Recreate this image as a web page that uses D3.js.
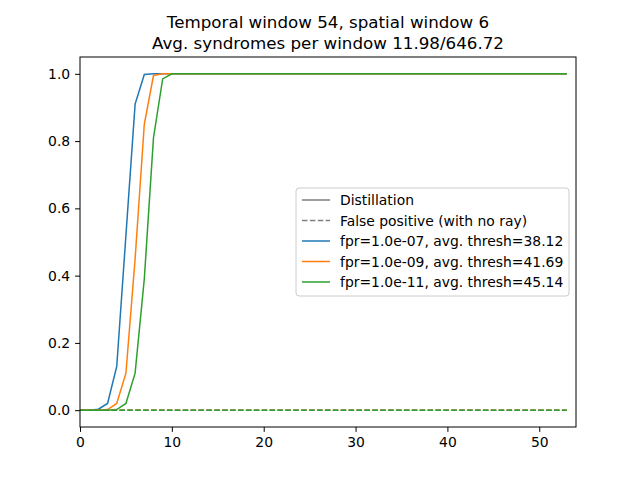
<!DOCTYPE html>
<html><head><meta charset="utf-8">
<script src="https://cdn.jsdelivr.net/npm/d3@7"></script>
<style>body{margin:0;background:#fff}text{font-family:"DejaVu Sans",sans-serif}</style>
</head><body><div id="chart"></div>
<script>
// x is window offset 0..53
var xs = d3.range(0, 54);
var blueHead = [0, 0, 0.003, 0.02, 0.13, 0.52, 0.91, 0.998];
var orangeHead = [0, 0, 0, 0.002, 0.02, 0.11, 0.45, 0.85, 0.995];
var greenHead = [0, 0, 0, 0, 0.002, 0.02, 0.11, 0.39, 0.81, 0.985];
var labels = ["fpr=1.0e-07, avg. thresh=38.12", "fpr=1.0e-09, avg. thresh=41.69", "fpr=1.0e-11, avg. thresh=45.14"];
var colors = ["#1f77b4", "#ff7f0e", "#2ca02c"];
var yTicks = [0, 0.2, 0.4, 0.6, 0.8, 1.0];
var xTicks = [0, 10, 20, 30, 40, 50];

function fill(head) { return xs.map(function(x) { return x < head.length ? head[x] : 1; }); }
var series = [fill(blueHead), fill(orangeHead), fill(greenHead)];
var falsePos = xs.map(function() { return 0; });

var svg = d3.select("#chart").append("svg").attr("width", 640).attr("height", 480);
var x = d3.scaleLinear().domain([0, 54]).range([80, 576]);
var y = d3.scaleLinear().domain([-0.05, 1.05]).range([427, 57]);

var line = d3.line().x(function(d, i) { return x(xs[i]); }).y(function(d) { return y(d); });

series.forEach(function(s, k) {
  svg.append("path").datum(s).attr("d", line).attr("fill", "none")
    .attr("stroke", colors[k]).attr("stroke-width", 1.5);
});
series.forEach(function(s, k) {
  svg.append("path").datum(falsePos).attr("d", line).attr("fill", "none")
    .attr("stroke", colors[k]).attr("stroke-width", 1.5).attr("stroke-dasharray", "5.5,2.4");
});

svg.append("g").attr("transform", "translate(0,427)")
  .call(d3.axisBottom(x).tickValues(xTicks).tickSize(4.9).tickPadding(4.9))
  .call(function(g) { g.select(".domain").remove(); g.selectAll("text").attr("font-size", 13.9).attr("fill", "#000"); });
svg.append("g").attr("transform", "translate(80,0)")
  .call(d3.axisLeft(y).tickValues(yTicks).tickFormat(d3.format(".1f")).tickSize(4.9).tickPadding(4.9))
  .call(function(g) { g.select(".domain").remove(); g.selectAll("text").attr("font-size", 13.9).attr("fill", "#000"); });
svg.append("rect").attr("x", 80).attr("y", 57).attr("width", 496).attr("height", 370)
  .attr("fill", "none").attr("stroke", "#000").attr("stroke-width", 1);

svg.append("text").attr("x", 328).attr("y", 28).attr("text-anchor", "middle").attr("font-size", 16.7)
  .text("Temporal window 54, spatial window 6");
svg.append("text").attr("x", 328).attr("y", 49).attr("text-anchor", "middle").attr("font-size", 16.7)
  .text("Avg. syndromes per window 11.98/646.72");

// legend
var lg = svg.append("g").attr("transform", "translate(296,188)");
lg.append("rect").attr("width", 273).attr("height", 108).attr("rx", 3).attr("fill", "#fff")
  .attr("stroke", "#ccc").attr("stroke-width", 1);
var entries = [
  { t: "Distillation", c: "#7f7f7f", dash: null },
  { t: "False positive (with no ray)", c: "#7f7f7f", dash: "5.5,2.4" }
].concat(labels.map(function(t, k) { return { t: t, c: colors[k], dash: null }; }));
entries.forEach(function(e, i) {
  var yy = 12 + i * 20.5;
  lg.append("line").attr("x1", 6).attr("x2", 34).attr("y1", yy).attr("y2", yy)
    .attr("stroke", e.c).attr("stroke-width", 1.5).attr("stroke-dasharray", e.dash);
  lg.append("text").attr("x", 44).attr("y", yy + 5).attr("font-size", 13.9).text(e.t);
});
</script></body></html>
